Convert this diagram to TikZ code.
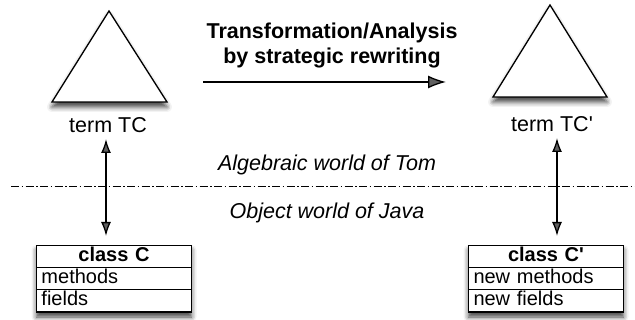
\documentclass[tikz,border=0pt]{standalone}
\usepackage{fontspec}
\setmainfont{Liberation Sans}
\usetikzlibrary{arrows.meta,shadows.blur}
\tikzset{
  shade/.style={blur shadow={shadow xshift=0pt, shadow yshift=-5pt, shadow blur radius=5pt, shadow opacity=75}},
  tri/.style={draw, line width=1.3pt, fill=white, line join=miter, shade},
  lbl/.style={font=\fontsize{21.5}{21.5}\selectfont, inner sep=0},
  ttl/.style={font=\fontsize{21.5}{25}\bfseries\selectfont, align=center, inner sep=0},
  cell/.style={draw, line width=1.3pt, minimum width=155pt, minimum height=22.3pt, inner ysep=0pt, inner xsep=5pt, outer sep=0pt, text width=145pt, text height=14pt, text depth=4pt, font=\fontsize{20}{20}\selectfont, fill=white},
  hdr/.style={cell, align=center, font=\fontsize{20}{20}\bfseries\selectfont},
  row/.style={cell, align=left},
  biarrow/.style={line width=1.3pt, {Latex[length=14pt,width=10pt]}-{Latex[length=14pt,width=10pt]}},
  onearrow/.style={line width=1.3pt, -{Latex[length=18pt,width=13pt]}},
  sep/.style={line width=1pt, dash pattern=on 8pt off 2.5pt on 1.5pt off 2.5pt}
}
\begin{document}
\begin{tikzpicture}[x=1pt,y=-1pt]
\useasboundingbox (0,0) rectangle (635,320);
% triangles
\draw[tri] (109,11) -- (167,102) -- (52,102) -- cycle;
\draw[tri] (550,5) -- (607,97) -- (493,97) -- cycle;
% labels
\node[lbl] (termL) at (108,125) {term TC};
\node[lbl] (termR) at (552,124) {term TC\textquotesingle};
\node[ttl] (title) at (332,45) {Transformation/Analysis\\by strategic rewriting};
\node[lbl, font=\fontsize{21.5}{21.5}\itshape\selectfont] (alg) at (327,165) {Algebraic world of Tom};
\node[lbl, font=\fontsize{21.5}{21.5}\itshape\selectfont] (obj) at (327,213) {Object world of Java};
% separator
\coordinate (sepA) at (11,187);
\coordinate (sepB) at (635,187);
\draw[sep] (sepA) -- (sepB);
% boxes
\node[shade, minimum width=155pt, minimum height=67pt, fill=white, inner sep=0] (boxL) at (114,278.5) {};
\node[hdr] (hL) at (114,256.5) {class C};
\node[row] (mL) at (114,279) {methods};
\node[row] (fL) at (114,301) {fields};
\node[shade, minimum width=155pt, minimum height=67pt, fill=white, inner sep=0] (boxR) at (546,278.5) {};
\node[hdr] (hR) at (546,256.5) {class C\textquotesingle};
\node[row] (mR) at (546,279) {new methods};
\node[row] (fR) at (546,301) {new fields};
% connectors
\coordinate (aL1) at (106,139);
\coordinate (aL2) at (106,236);
\draw[biarrow] (aL1) -- (aL2);
\coordinate (aR1) at (557,138);
\coordinate (aR2) at (557,236);
\draw[biarrow] (aR1) -- (aR2);
\coordinate (hA) at (203,82);
\coordinate (hB) at (446,82);
\draw[onearrow] (hA) -- (hB);
\end{tikzpicture}
\end{document}
